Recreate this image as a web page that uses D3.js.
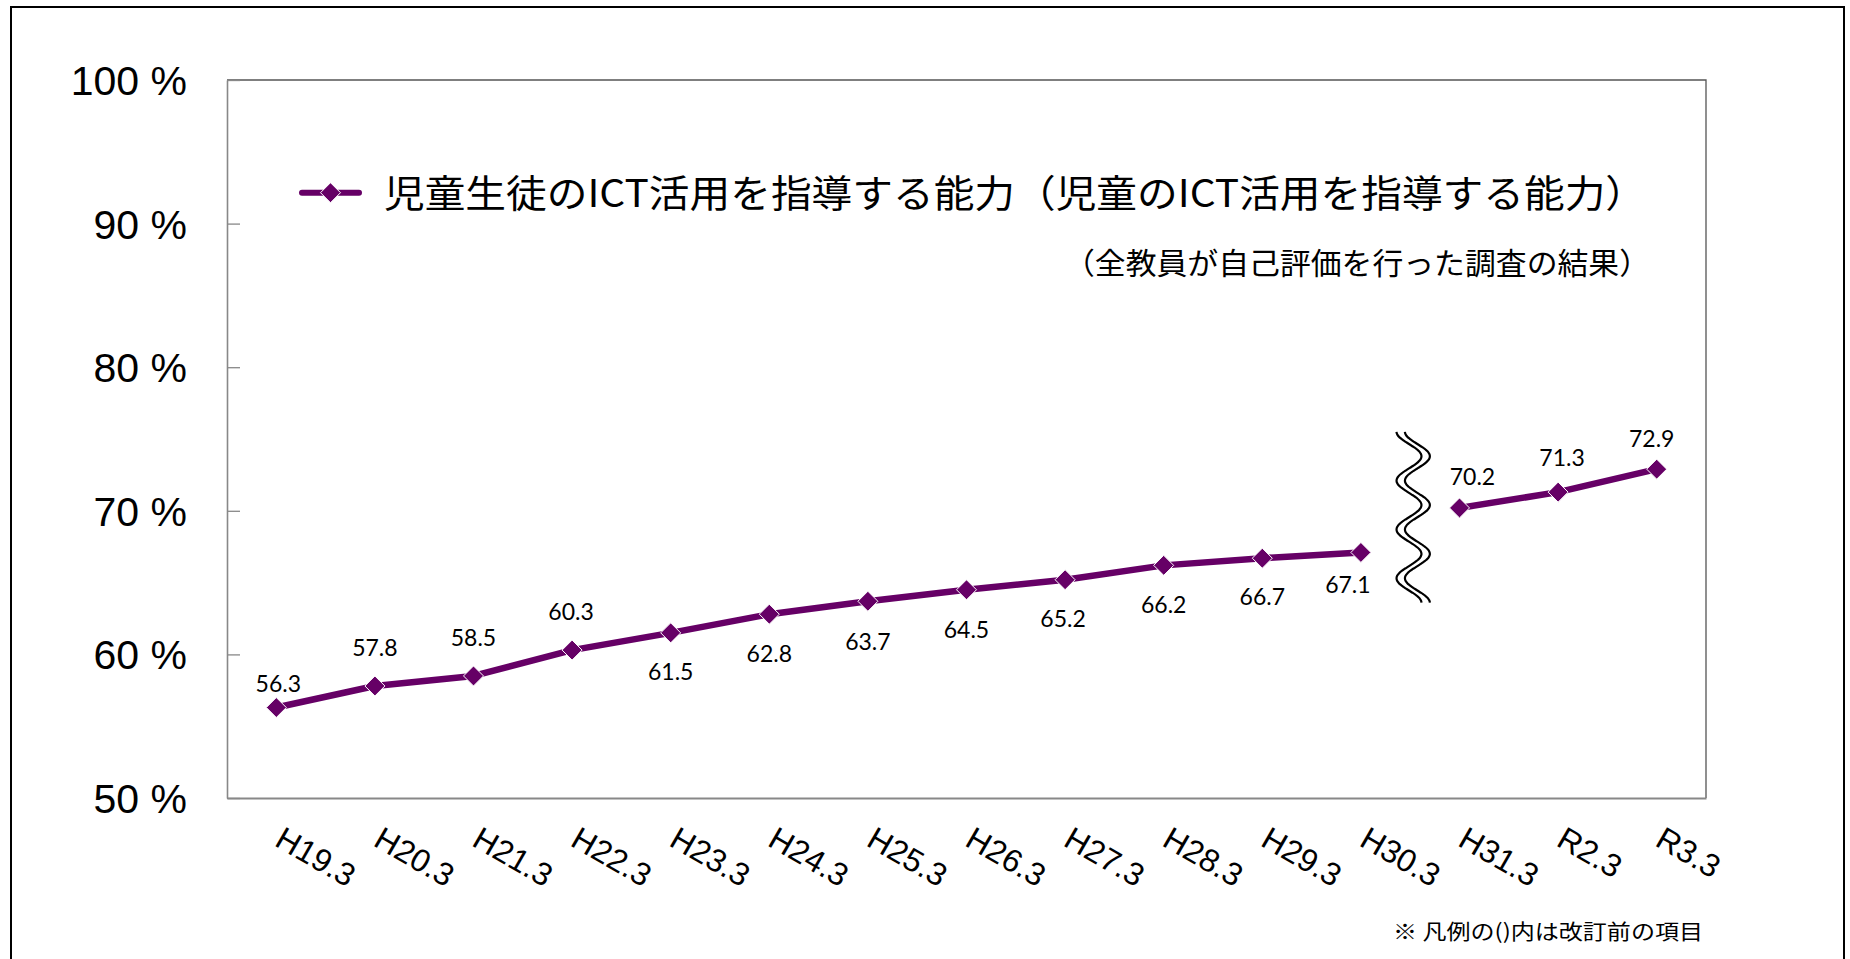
<!DOCTYPE html>
<html>
<head>
<meta charset="utf-8">
<script src="https://cdn.jsdelivr.net/npm/d3@7"></script>
<style>
  html, body { margin: 0; padding: 0; background: #fff; }
  svg { display: block; }
</style>
</head>
<body>
<svg id="chart" width="1850" height="959"></svg>
<script>
// ---- data ----
const categories = ["H19.3","H20.3","H21.3","H22.3","H23.3","H24.3","H25.3","H26.3","H27.3","H28.3","H29.3","H30.3","H31.3","R2.3","R3.3"];
const values = [56.3, 57.8, 58.5, 60.3, 61.5, 62.8, 63.7, 64.5, 65.2, 66.2, 66.7, 67.1, 70.2, 71.3, 72.9];
const yTicks = [50, 60, 70, 80, 90, 100];
const seriesName = "児童生徒のICT活用を指導する能力（児童のICT活用を指導する能力）";
const subtitle = "（全教員が自己評価を行った調査の結果）";
const footnote = "※ 凡例の()内は改訂前の項目";
const breakAfterIndex = 11;          // gap between H30.3 and H31.3
const breakRange = [63.6, 75.5];     // vertical extent of the wavy break (value units)

// label placement (layout only)
const labelDx = [2, 0, 0, -1, 0, 0, 0, 0, -2, 0, 0, -13, 13, 4, -5];
const labelDy = [-15.6, -30, -30, -30, 47, 47.7, 48.3, 48.3, 47, 47.3, 46.7, 40.7, -23.3, -26.3, -22.6];

// ---- layout ----
const plot = { left: 227, right: 1706, top: 80, bottom: 798 };
const purple = "#660066";

const svg = d3.select("#chart");

// outer frame
svg.append("rect")
  .attr("x", 11).attr("y", 7).attr("width", 1833).attr("height", 1000)
  .attr("fill", "#fff").attr("stroke", "#000").attr("stroke-width", 2);

const x = d3.scaleBand().domain(categories).range([plot.left, plot.right]).padding(0);
const cx = d => x(d) + x.bandwidth() / 2;
const y = d3.scaleLinear().domain([50, 100]).range([plot.bottom, plot.top]);

// plot area border (top and right)
svg.append("path")
  .attr("d", `M${plot.left},${plot.top}H${plot.right}V${plot.bottom}`)
  .attr("fill", "none").attr("stroke", "#555").attr("stroke-width", 1.3);

// y axis
const yAxis = d3.axisLeft(y).tickValues(yTicks).tickSizeInner(-13).tickSizeOuter(0)
  .tickPadding(40).tickFormat(d => d + " %");
const gy = svg.append("g").attr("transform", `translate(${plot.left},0)`).call(yAxis);
gy.select(".domain").attr("stroke", "#888").attr("stroke-width", 1.6);
gy.selectAll(".tick line").attr("stroke", "#888").attr("stroke-width", 1.3);
gy.selectAll(".tick text")
  .attr("font-family", "'Liberation Sans', Arial, sans-serif")
  .attr("font-size", 41).attr("fill", "#000").attr("dy", "0.355em");

// x axis
const xAxis = d3.axisBottom(x).tickSize(0).tickPadding(0);
const gx = svg.append("g").attr("transform", `translate(0,${plot.bottom})`).call(xAxis);
gx.select(".domain").attr("stroke", "#888").attr("stroke-width", 2.2);
gx.selectAll(".tick text")
  .attr("font-family", "'Liberation Sans', Arial, sans-serif")
  .attr("font-size", 32).attr("fill", "#000")
  .attr("text-anchor", "start")
  .attr("x", 0).attr("y", 0).attr("dy", 0)
  .attr("transform", "translate(-3,47) rotate(30)");

// series line (two segments around the break)
const pts = categories.map((c, i) => ({ c, v: values[i], i }));
const line = d3.line().x(d => cx(d.c)).y(d => y(d.v));
const segs = [pts.slice(0, breakAfterIndex + 1), pts.slice(breakAfterIndex + 1)];
svg.append("g").selectAll("path").data(segs).join("path")
  .attr("d", line)
  .attr("fill", "none").attr("stroke", purple).attr("stroke-width", 6.5)
  .attr("stroke-linejoin", "round");

// markers
const diamond = r => `M0,${-r}L${r},0L0,${r}L${-r},0Z`;
svg.append("g").selectAll("path").data(pts).join("path")
  .attr("transform", d => `translate(${cx(d.c)},${y(d.v)})`)
  .attr("d", diamond(10))
  .attr("fill", purple).attr("stroke", "#fff").attr("stroke-width", 1);

// data labels
svg.append("g").selectAll("text").data(pts).join("text")
  .attr("x", d => cx(d.c) + labelDx[d.i])
  .attr("y", d => y(d.v) + labelDy[d.i])
  .attr("text-anchor", "middle")
  .attr("font-family", "Lato, 'Open Sans', sans-serif")
  .attr("font-size", 23).attr("fill", "#000")
  .text(d => d.v.toFixed(1));

// wavy break symbol
const bx = x(categories[breakAfterIndex + 1]) + 3;
const yTop = y(breakRange[1]), yBot = y(breakRange[0]);
const halfPeriods = 7, amp = 12.5;
function wave(xc) {
  const n = 140, p = [];
  for (let k = 0; k <= n; k++) {
    const t = k / n;
    p.push([xc - amp * Math.cos(Math.PI * halfPeriods * t), yTop + (yBot - yTop) * t]);
  }
  return d3.line().curve(d3.curveBasis)(p);
}
const gb = svg.append("g");
gb.append("path").attr("d", wave(bx - 4.2)).attr("fill", "none").attr("stroke", "#000").attr("stroke-width", 2.2);
gb.append("path").attr("d", wave(bx + 4.2)).attr("fill", "none").attr("stroke", "#000").attr("stroke-width", 2.2);

// legend
const lg = svg.append("g").attr("transform", "translate(0,192.7)");
lg.append("line").attr("x1", 302).attr("x2", 359).attr("y1", 0).attr("y2", 0)
  .attr("stroke", purple).attr("stroke-width", 6).attr("stroke-linecap", "round");
lg.append("path").attr("transform", "translate(330.5,0)").attr("d", diamond(10))
  .attr("fill", purple).attr("stroke", "#fff").attr("stroke-width", 1);
svg.append("text")
  .attr("x", 384).attr("y", 207)
  .attr("font-family", "'Noto Sans CJK JP', sans-serif")
  .attr("font-size", 38).attr("fill", "#000")
  .attr("textLength", 1262).attr("lengthAdjust", "spacingAndGlyphs")
  .text(seriesName);

// subtitle
svg.append("text")
  .attr("x", 1064).attr("y", 274)
  .attr("font-family", "'Noto Sans CJK JP', sans-serif")
  .attr("font-size", 30).attr("fill", "#000")
  .attr("textLength", 586).attr("lengthAdjust", "spacingAndGlyphs")
  .text(subtitle);

// footnote
svg.append("text")
  .attr("x", 1393).attr("y", 939)
  .attr("font-family", "'Noto Sans CJK JP', sans-serif")
  .attr("font-size", 21).attr("fill", "#000")
  .attr("textLength", 310).attr("lengthAdjust", "spacingAndGlyphs")
  .text(footnote);
</script>
</body>
</html>
